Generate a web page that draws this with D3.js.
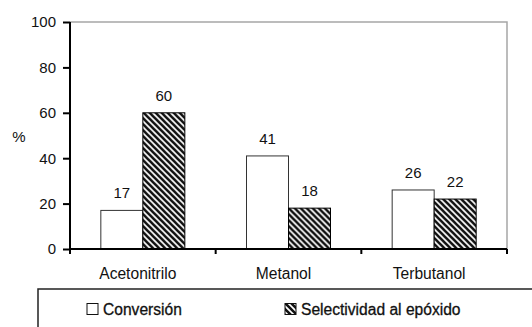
<!DOCTYPE html>
<html>
<head>
<meta charset="utf-8">
<script src="https://cdn.jsdelivr.net/npm/d3@7"></script>
<style>
  html, body { margin: 0; padding: 0; background: #fff; }
  svg { display: block; font-family: "Liberation Sans", Arial, sans-serif; }
</style>
</head>
<body>
<svg id="chart" width="532" height="327"></svg>
<script>
// Solvent categories and the two measured series (%)
const categories = ["Acetonitrilo", "Metanol", "Terbutanol"];
const seriesNames = ["Conversión", "Selectividad al epóxido"];
const conversion = [17, 41, 26];
const selectivity = [60, 18, 22];
const yTicks = [0, 20, 40, 60, 80, 100];

const FONT = "Liberation Sans, Arial, sans-serif";
const svg = d3.select("#chart");
const margin = { left: 70, right: 25, top: 22, bottom: 78 };
const W = 532, H = 327;
const plotW = W - margin.left - margin.right;
const plotH = H - margin.top - margin.bottom;

// Diagonal hatch for the selectivity bars
const defs = svg.append("defs");
const pat = defs.append("pattern")
  .attr("id", "hatch")
  .attr("patternUnits", "userSpaceOnUse")
  .attr("width", 6).attr("height", 6);
pat.append("rect").attr("width", 6).attr("height", 6).attr("fill", "#fff");
pat.append("path")
  .attr("d", "M-1,-1 L7,7 M-4,2 L1,7 M2,-4 L7,1")
  .attr("stroke", "#111").attr("stroke-width", 2.6);

const g = svg.append("g").attr("transform", `translate(${margin.left},${margin.top})`);

const x = d3.scaleBand().domain(categories).range([0, plotW]).padding(0);
const y = d3.scaleLinear().domain([0, 100]).range([plotH, 0]);
const barW = 42;

const rows = categories.map((c, i) => ({ cat: c, vals: [conversion[i], selectivity[i]] }));

// Plot frame (top and right), light gray
g.append("path")
  .attr("d", `M0,${y(100)} H${plotW} V${plotH}`)
  .attr("fill", "none").attr("stroke", "#a6a6a6").attr("stroke-width", 1.5);

// Bars
const groups = g.selectAll(".grp").data(rows).join("g")
  .attr("transform", d => `translate(${x(d.cat) + x.bandwidth() / 2 - barW},0)`);

groups.selectAll("rect").data(d => d.vals).join("rect")
  .attr("x", (d, i) => i * barW)
  .attr("y", d => y(d))
  .attr("width", barW)
  .attr("height", d => plotH - y(d))
  .attr("fill", (d, i) => i === 0 ? "#fff" : "url(#hatch)")
  .attr("stroke", (d, i) => i === 0 ? "#333" : "#000")
  .attr("stroke-width", 1);

// Value labels
groups.selectAll("text").data(d => d.vals).join("text")
  .attr("x", (d, i) => i * barW + barW / 2)
  .attr("y", d => y(d) - 12)
  .attr("text-anchor", "middle")
  .attr("font-size", 15)
  .attr("fill", "#111")
  .text(d => d);

// Y axis
const yAxis = g.append("g")
  .call(d3.axisLeft(y).tickValues(yTicks).tickSize(7).tickPadding(7));
yAxis.select(".domain").attr("d", `M0,${plotH + 4} V${y(100)}`)
  .attr("stroke", "#000").attr("stroke-width", 2);
yAxis.selectAll(".tick line").attr("stroke", "#000").attr("stroke-width", 2);
yAxis.selectAll(".tick text").attr("font-size", 15).attr("fill", "#111")
  .attr("font-family", FONT);

// X axis: ticks at category boundaries
const xg = g.append("g").attr("transform", `translate(0,${plotH})`);
xg.append("line").attr("x1", 0).attr("x2", plotW)
  .attr("stroke", "#000").attr("stroke-width", 2);
const bounds = categories.map(c => x(c)).concat([plotW]);
xg.selectAll(".bt").data(bounds).join("line")
  .attr("x1", d => d).attr("x2", d => d)
  .attr("y1", 0).attr("y2", 5)
  .attr("stroke", "#000").attr("stroke-width", 2);
xg.selectAll(".cl").data(categories).join("text")
  .attr("x", d => x(d) + x.bandwidth() / 2 - 5)
  .attr("y", 29.5)
  .attr("text-anchor", "middle")
  .attr("font-size", 15.6)
  .attr("fill", "#111")
  .text(d => d);

// Y axis title
svg.append("text")
  .attr("x", 19).attr("y", 142)
  .attr("text-anchor", "middle")
  .attr("font-size", 15).attr("fill", "#111")
  .text("%");

// Legend
const lg = svg.append("g");
lg.append("rect")
  .attr("x", 38).attr("y", 289)
  .attr("width", 520).attr("height", 60)
  .attr("fill", "#fff").attr("stroke", "#222").attr("stroke-width", 1.5);
const legendX = [87, 285];
seriesNames.forEach((name, i) => {
  lg.append("rect")
    .attr("x", legendX[i]).attr("y", 303.5)
    .attr("width", 11).attr("height", 11)
    .attr("fill", i === 0 ? "#fff" : "url(#hatch)")
    .attr("stroke", "#111").attr("stroke-width", 1);
  lg.append("text")
    .attr("x", legendX[i] + 16).attr("y", 314.5)
    .attr("font-size", 15.6).attr("fill", "#111")
    .attr("stroke", "#111").attr("stroke-width", 0.3)
    .text(name);
});
</script>
</body>
</html>
